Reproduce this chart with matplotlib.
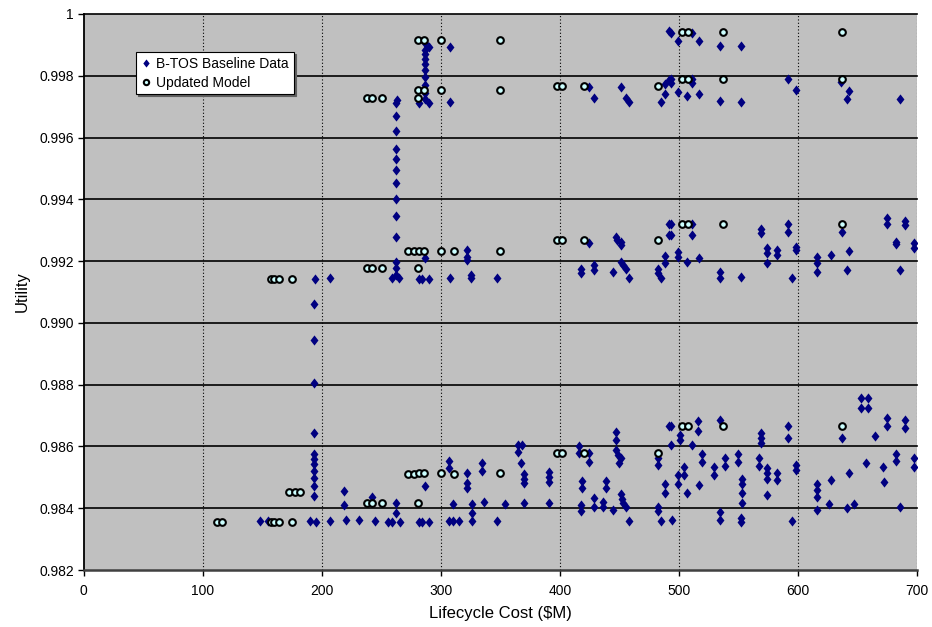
import numpy as np
import matplotlib
matplotlib.use("Agg")
import matplotlib.pyplot as plt

plt.rcParams['font.family'] = ['Liberation Sans', 'DejaVu Sans']

# B-TOS baseline data: (cost $M, utility)
# vertical run at ~193 $M (lower band up to middle band)
jump1_x = [193, 193, 193, 193, 193, 193, 193, 193, 193, 193, 193, 194, 189.8, 195]
jump1_y = [0.98440, 0.98471, 0.98498, 0.98521, 0.98542, 0.98559, 0.98575, 0.98644,
           0.98806, 0.98944, 0.99061, 0.99143, 0.98358, 0.98354]

# vertical run at ~262 $M (middle band up to top band)
jump2_x = [259, 265, 262, 262, 262, 262, 262, 262, 262, 262, 262, 262, 262, 262, 262, 263]
jump2_y = [0.99144, 0.99144, 0.99155, 0.99178, 0.99198, 0.99279, 0.99347, 0.99400,
           0.99454, 0.99495, 0.99530, 0.99562, 0.99621, 0.99670, 0.99711, 0.99721]

# column at ~287 $M in top band
jump3_x = [282, 289.8, 287, 287, 287, 287, 287, 287, 287, 287, 287, 289.8, 287]
jump3_y = [0.99711, 0.99711, 0.99725, 0.99745, 0.99770, 0.99795, 0.99818, 0.99838,
           0.99855, 0.99870, 0.99885, 0.99894, 0.99905]

low_x = [147.8, 154.8, 207.1, 220, 218.3, 218.3, 231.2, 242.4, 244.3, 255.5, 259.1, 265.3,
         262.5, 262.5, 281.5, 284.3, 289.8, 286.8, 306.6, 306.6, 310, 306.6, 310, 315,
         322.3, 322.3, 322.3, 326.2, 326.2, 326.2, 334.3, 334.3, 336.6, 347.2, 353.6,
         364.5, 368.2, 364.5, 367.6, 370.1, 370.1, 370.1, 370.1, 391.1, 391.1, 391.1, 391.1,
         415.7, 415.7, 424.1, 424.1, 418.5, 418.5, 417.7, 417.7, 428.3, 428.3, 435.8, 435.8,
         438.9, 438.9, 444.2, 447, 447, 447, 449, 451, 450, 451.2, 452, 452.6, 455.4, 458.2,
         482, 482, 482.8, 482.8, 485, 488.4, 488.4, 491.8, 493.7, 493.7, 500.7, 500.7, 494,
         499.3, 499.3, 504.4, 504.4, 506.6, 511.3, 516.1, 516.1, 517, 519.7, 519.7, 529.5,
         529.5, 534.3, 538.5, 538.5, 534.3, 534.3, 549.7, 549.7, 553.3, 553.3, 553.3, 553.3,
         552.4, 552.4, 567.3, 567.3, 568.7, 568.7, 568.7, 574.3, 574.3, 574.3, 574.3, 582.6,
         582.6, 591.9, 591.9, 598, 598, 595.2, 615.7, 615.7, 615.7, 615.7, 626, 627.4, 636.6,
         642.8, 641.4, 647, 652.6, 659, 652.6, 659, 656.8, 664.6, 671.6, 672.2, 675.2, 675.2,
         682, 682, 686.1, 690.3, 690.3, 697.3, 697.3]
low_y = [0.98358, 0.98358, 0.98358, 0.98363, 0.98455, 0.98410, 0.98363, 0.98437, 0.98359,
         0.98355, 0.98355, 0.98355, 0.98417, 0.98383, 0.98357, 0.98357, 0.98357, 0.98473,
         0.98552, 0.98531, 0.98415, 0.98359, 0.98359, 0.98359, 0.98514, 0.98482, 0.98464,
         0.98415, 0.98383, 0.98359, 0.98545, 0.98521, 0.98420, 0.98359, 0.98415, 0.98606,
         0.98606, 0.98582, 0.98545, 0.98512, 0.98495, 0.98483, 0.98417, 0.98518, 0.98502,
         0.98485, 0.98417, 0.98601, 0.98579, 0.98579, 0.98550, 0.98487, 0.98467, 0.98410,
         0.98391, 0.98433, 0.98404, 0.98420, 0.98404, 0.98487, 0.98467, 0.98393, 0.98647,
         0.98622, 0.98588, 0.98572, 0.98561, 0.98545, 0.98447, 0.98431, 0.98417, 0.98404,
         0.98359, 0.98561, 0.98539, 0.98404, 0.98391, 0.98359, 0.98480, 0.98450, 0.98666,
         0.98666, 0.98604, 0.98636, 0.98620, 0.98363, 0.98507, 0.98480, 0.98534, 0.98507,
         0.98450, 0.98604, 0.98683, 0.98650, 0.98474, 0.98574, 0.98550, 0.98534, 0.98507,
         0.98687, 0.98564, 0.98536, 0.98388, 0.98361, 0.98574, 0.98550, 0.98496, 0.98480,
         0.98450, 0.98418, 0.98367, 0.98356, 0.98563, 0.98536, 0.98642, 0.98626, 0.98610,
         0.98529, 0.98515, 0.98496, 0.98444, 0.98514, 0.98491, 0.98666, 0.98628, 0.98539,
         0.98523, 0.98359, 0.98480, 0.98459, 0.98437, 0.98395, 0.98415, 0.98491, 0.98626,
         0.98514, 0.98402, 0.98415, 0.98757, 0.98757, 0.98726, 0.98726, 0.98545, 0.98633,
         0.98534, 0.98485, 0.98693, 0.98666, 0.98574, 0.98553, 0.98404, 0.98687, 0.98661,
         0.98561, 0.98532]

mid_x = [207, 281.5, 284.3, 289.8, 286.8, 307.8, 322.3, 322.3, 322.3, 325.7, 325.7, 347.2,
         417.7, 417.7, 428.3, 428.3, 424.1, 447, 448, 451, 451, 444.2, 451.2, 452.6, 455.4,
         458.2, 482, 482.8, 485, 488.4, 488.4, 491.8, 491.8, 493.7, 493.7, 499.3, 499.3,
         506.6, 511.3, 511.3, 517, 534.3, 534.3, 552.1, 568.7, 568.7, 574.3, 574.3, 574.3,
         582.6, 582.6, 591.9, 591.9, 598, 598, 595.2, 615.7, 615.7, 615.7, 627.4, 636.6,
         642.8, 641.4, 675.2, 675.2, 682, 682, 690.3, 690.3, 686.1, 697.3, 697.3]
mid_y = [0.99145, 0.99141, 0.99141, 0.99141, 0.99209, 0.99144, 0.99236, 0.99214, 0.99203,
         0.99155, 0.99144, 0.99146, 0.99173, 0.99162, 0.99187, 0.99171, 0.99257, 0.99277,
         0.99268, 0.99262, 0.99252, 0.99165, 0.99198, 0.99187, 0.99176, 0.99146, 0.99173,
         0.99160, 0.99144, 0.99216, 0.99194, 0.99319, 0.99284, 0.99319, 0.99285, 0.99230,
         0.99212, 0.99197, 0.99319, 0.99285, 0.99209, 0.99165, 0.99146, 0.99149, 0.99303,
         0.99290, 0.99243, 0.99227, 0.99194, 0.99236, 0.99219, 0.99319, 0.99295, 0.99246,
         0.99236, 0.99146, 0.99212, 0.99194, 0.99165, 0.99219, 0.99295, 0.99233, 0.99171,
         0.99338, 0.99319, 0.99262, 0.99254, 0.99331, 0.99317, 0.99171, 0.99259, 0.99241]

high_x = [308, 308, 424.7, 428.3, 451.2, 455.4, 458.2, 485, 488.4, 491.8, 491.8, 493.7,
          499.3, 511.3, 517, 534.3, 552.4, 493.7, 493.7, 488.4, 499.3, 506.6, 511.3, 511.3,
          517, 534.3, 552.4, 591.9, 598, 636.3, 642.8, 641.4, 686.1]
high_y = [0.99894, 0.99714, 0.99765, 0.99727, 0.99765, 0.99727, 0.99714, 0.99714, 0.99774,
          0.99946, 0.99786, 0.99937, 0.99913, 0.99937, 0.99911, 0.99895, 0.99895, 0.99789,
          0.99775, 0.99740, 0.99748, 0.99735, 0.99789, 0.99775, 0.99741, 0.99718, 0.99714,
          0.99788, 0.99754, 0.99781, 0.99752, 0.99724, 0.99725]

# Updated model points
model_x = [112, 115.7, 157, 160, 164, 175.2, 172.4, 177.2, 181.4, 238, 242.4, 250.4, 280.6,
           272.8, 277.3, 282, 286.2, 299.7, 311.1, 350, 397.6, 401.8, 419.9, 482.5,
           502.4, 507.7, 536.8, 637,
           157, 160, 164, 175.2, 238, 242.4, 250.4, 280.6,
           272.8, 277.3, 282, 286.2, 299.7, 311.1, 350, 397.6, 401.8, 419.9, 482.5,
           502.4, 507.7, 536.8, 637,
           238, 242.4, 250.4, 280.6, 281, 286.2, 299.7, 350, 397.6, 401.8, 419.9, 482.5,
           502.4, 507.7, 536.8, 637, 281, 286.2, 299.7, 350, 502.4, 507.7, 536.8, 637]
model_y = [0.98355, 0.98355, 0.98355, 0.98355, 0.98355, 0.98355, 0.98454, 0.98454, 0.98454,
           0.98417, 0.98417, 0.98417, 0.98417,
           0.98512, 0.98512, 0.98515, 0.98515, 0.98515, 0.98512, 0.98515,
           0.98578, 0.98578, 0.98578, 0.98578, 0.98665, 0.98665, 0.98665, 0.98665,
           0.99143, 0.99143, 0.99143, 0.99143, 0.99178, 0.99178, 0.99178, 0.99178,
           0.99232, 0.99232, 0.99232, 0.99232, 0.99234, 0.99232, 0.99234,
           0.99269, 0.99269, 0.99269, 0.99269, 0.99319, 0.99319, 0.99319, 0.99319,
           0.99728, 0.99728, 0.99728, 0.99728, 0.99753, 0.99753, 0.99753, 0.99753,
           0.99768, 0.99768, 0.99768, 0.99768, 0.99789, 0.99789, 0.99789, 0.99789,
           0.99917, 0.99917, 0.99917, 0.99917, 0.99941, 0.99941, 0.99941, 0.99941]

btos_x = jump1_x + jump2_x + jump3_x + low_x + mid_x + high_x
btos_y = jump1_y + jump2_y + jump3_y + low_y + mid_y + high_y

diamond = [(0, 1), (0.78, 0), (0, -1), (-0.78, 0), (0, 1)]

fig = plt.figure(figsize=(9.32, 6.27), dpi=100)
ax = fig.add_axes([0.0899, 0.0909, 0.894, 0.8868])
ax.set_facecolor('#C0C0C0')

ax.plot(btos_x, btos_y, linestyle='none', marker=diamond, markersize=7.3,
        color='#000080', markeredgewidth=0, label='B-TOS Baseline Data', zorder=3)
ax.plot(model_x, model_y, linestyle='none', marker='o', markersize=4.8,
        markerfacecolor='#CCFFFF', markeredgecolor='black', markeredgewidth=1.5,
        label='Updated Model', zorder=4)

ax.set_xlim(0, 700)
ax.set_ylim(0.982, 1.0)
ax.set_xticks(np.arange(0, 701, 100))
yt = np.arange(0.982, 1.0001, 0.002)
ax.set_yticks(yt)
ax.set_yticklabels(['1' if v > 0.9995 else '%.3f' % v for v in yt])

for v in yt[1:]:
    ax.axhline(v, color='black', linewidth=1.2, zorder=1, clip_on=False)
for v in range(100, 701, 100):
    ax.axvline(v, color='black', linewidth=0.8, linestyle=(0, (1, 2)), zorder=1)

for s in ['top', 'right']:
    ax.spines[s].set_visible(False)
ax.spines['left'].set_color('black')
ax.spines['left'].set_linewidth(1.3)
ax.spines['bottom'].set_color('#404040')
ax.spines['bottom'].set_linewidth(1.8)

ax.tick_params(axis='both', direction='out', length=4, width=1, labelsize=10, colors='black')
ax.tick_params(axis='x', pad=6)
ax.tick_params(axis='y', pad=3)

ax.set_xlabel('Lifecycle Cost ($M)', fontsize=12, labelpad=6)
ax.set_ylabel('Utility', fontsize=12, labelpad=7)

leg = ax.legend(loc='upper left', bbox_to_anchor=(0.0627, 0.932), borderaxespad=0,
                fontsize=10, frameon=True, fancybox=False, edgecolor='black',
                framealpha=1, handlelength=0.8, handletextpad=0.3, borderpad=0.35,
                labelspacing=0.35, markerscale=0.8,
                shadow={'ox': 1.5, 'oy': -1.5, 'color': '#606060', 'alpha': 1})
leg.get_frame().set_linewidth(0.8)

fig.savefig('out.png', dpi=100)
